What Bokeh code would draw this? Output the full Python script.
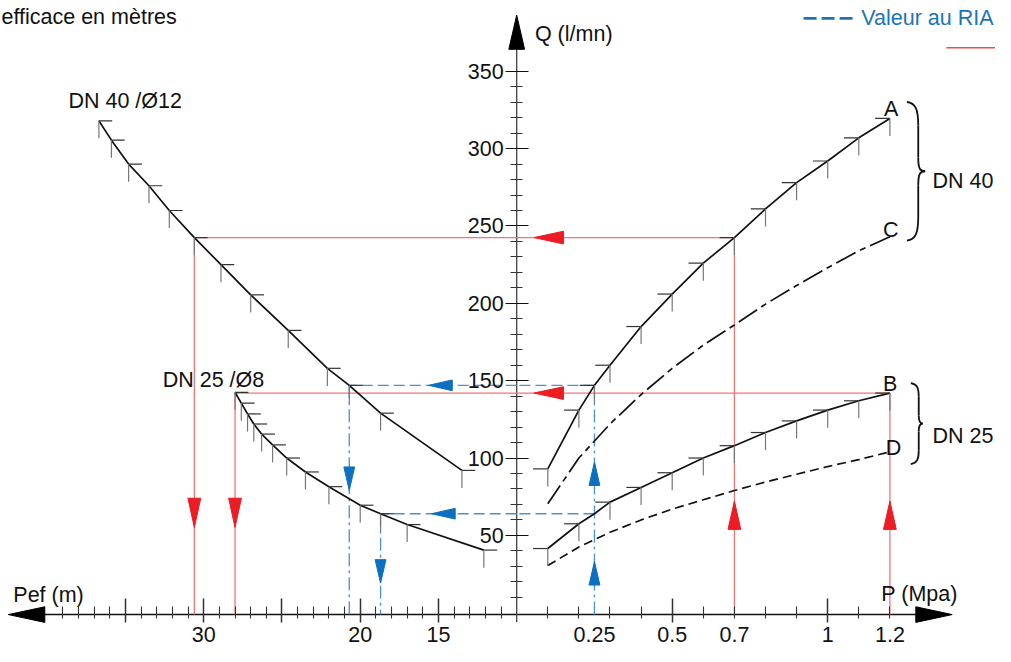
from bokeh.plotting import figure
from bokeh.models import LinearAxis, FixedTicker, Range1d
from bokeh.embed import file_html
from bokeh.resources import INLINE
from bokeh.core.properties import value

# ---------------- data ----------------
P_MPA = [0.1, 0.2, 0.3, 0.4, 0.5, 0.6, 0.7, 0.8, 0.9, 1.0, 1.1, 1.2]
Q_A = [93, 131, 160, 185, 206, 226, 242.5, 261, 278, 292, 307, 319.5]
Q_C = [70.5, 100, 122, 141, 158, 173, 186, 199.5, 211.5, 223, 234, 243]
Q_B = [41.5, 57.5, 71.5, 81, 90.5, 100, 108, 116.5, 124, 131, 137, 142]
Q_D = [30.5, 42.5, 52, 60, 67, 73, 79, 84.5, 89.5, 94.5, 99, 104]

PEF_40 = [13.5, 18.7, 22.1, 24.6, 27.0, 28.9, 30.6, 32.2, 33.5, 34.8, 35.9, 36.7]
Q_40 = [92, 129, 158, 182.5, 205.5, 225, 242.5, 260, 276, 290, 305.5, 318]
PEF_25 = [12.1, 17.0, 20.0, 22.0, 23.5, 24.7, 25.6, 26.3, 26.8, 27.2, 27.6, 28.0]
Q_25 = [40.5, 57, 69.5, 81.5, 91, 100, 108.5, 115.5, 122, 128.5, 135.5, 142.5]

# reading at the RIA value (blue), P = 0.25 MPa
RIA_P = 0.25
RIA_Q = [147, 64]        # DN 40 (A), DN 25 (B)
RIA_PEF = [20.7, 18.7]

# reading at the lance value (red)
RED_P = [0.7, 1.2]
RED_Q = [242.5, 142]
RED_PEF = [30.6, 28.0]

Q_TICKS = [50, 100, 150, 200, 250, 300, 350]
Q_MINOR = [v for v in range(10, 350, 10) if v % 50]
P_MAJOR = [0.5, 1.0]
P_MINOR = [0.1, 0.2, 0.3, 0.4, 0.6, 0.7, 0.8, 0.9, 1.1, 1.2]
P_LABEL_TICKS = [0.25, 0.5, 0.7, 1, 1.2]
P_LABELS = ["0.25", "0.5", "0.7", "1", "1.2"]
PEF_MAJOR = [15, 20, 25, 30, 35]
PEF_MINOR = [v for v in range(11, 40) if v % 5]
PEF_LABEL_TICKS = [15, 20, 30]

# ---------------- layout scales (reference pixels) ----------------
X0, SX = 524.5, 316.0      # P = 0 position, px per MPa
Y0, SY = 627.4, 1.5853     # Q = 0 position, px per l/mn
SPEF = 15.9                # px per metre on the left scale
W_REF, H_REF = 1011, 662


def X(px):
    return (px - X0) / SX


def Y(py):
    return (Y0 - py) / SY


def PEFX(px):
    return 10 + (X0 - px) / SPEF


AXIS_Q = Y(629.3)
FONT = value("Liberation Sans")
FS = "21.5px"

p = figure(width=995, height=646, x_range=Range1d(X(0), X(W_REF)),
           y_range=Range1d(Y(H_REF), Y(0)), x_axis_type=None, y_axis_type=None,
           toolbar_location=None, output_backend="svg", min_border=0)
p.extra_x_ranges = {"pef": Range1d(start=PEFX(0), end=PEFX(W_REF))}
p.outline_line_color = None
p.background_fill_color = "white"
p.border_fill_color = "white"

# ---------------- axes ----------------
label_style = dict(major_label_text_font="Liberation Sans", major_label_text_font_size=FS,
                   major_label_text_color="#111", axis_line_color=None)

ax_q = LinearAxis(fixed_location=0, ticker=FixedTicker(ticks=Q_TICKS, minor_ticks=Q_MINOR),
                  major_tick_in=12, major_tick_out=11, minor_tick_in=6, minor_tick_out=6,
                  major_tick_line_color="#111", minor_tick_line_color="#333",
                  major_label_standoff=2, **label_style)
p.add_layout(ax_q, "left")


def tick_axis(minor, tin, tout, width, rng=None):
    kw = dict(fixed_location=AXIS_Q, ticker=FixedTicker(ticks=[], minor_ticks=minor),
              minor_tick_in=tin, minor_tick_out=tout, minor_tick_line_color="#333",
              minor_tick_line_width=width, major_tick_line_color=None, axis_line_color=None)
    if rng:
        kw["x_range_name"] = rng
    p.add_layout(LinearAxis(**kw), "below")


tick_axis(P_MINOR, 8, 4, 1.1)
tick_axis(P_MAJOR, 16, 8, 1.5)
tick_axis(PEF_MINOR, 8, 4, 1.1, "pef")
tick_axis(PEF_MAJOR, 16, 8, 1.5, "pef")

ax_pl = LinearAxis(fixed_location=AXIS_Q, ticker=FixedTicker(ticks=P_LABEL_TICKS, minor_ticks=[]),
                   major_label_overrides=dict(zip(P_LABEL_TICKS, P_LABELS)),
                   major_tick_line_color=None, minor_tick_line_color=None,
                   major_tick_in=0, major_tick_out=0, major_label_standoff=12, **label_style)
p.add_layout(ax_pl, "below")

ax_ml = LinearAxis(x_range_name="pef", fixed_location=AXIS_Q,
                   ticker=FixedTicker(ticks=PEF_LABEL_TICKS, minor_ticks=[]),
                   major_tick_line_color=None, minor_tick_line_color=None,
                   major_tick_in=0, major_tick_out=0, major_label_standoff=12, **label_style)
p.add_layout(ax_ml, "below")

# axis lines
p.segment(x0=[X(45)], y0=[AXIS_Q], x1=[X(930)], y1=[AXIS_Q], line_color="#111", line_width=1.5)
p.segment(x0=[0], y0=[Y(637)], x1=[0], y1=[Y(50)], line_color="#444", line_width=1.3)


def tri(x, y, d, L, H, rng="default"):
    sx = 1 / SX if rng == "default" else -1 / SPEF
    sy = 1 / SY
    if d == "left":
        return [x, x + L * sx, x + L * sx], [y, y + H * sy, y - H * sy]
    if d == "right":
        return [x, x - L * sx, x - L * sx], [y, y + H * sy, y - H * sy]
    if d == "up":
        return [x, x - H * sx, x + H * sx], [y, y - L * sy, y - L * sy]
    return [x, x - H * sx, x + H * sx], [y, y + L * sy, y + L * sy]


# axis arrowheads
ah = [tri(X(8), AXIS_Q, "left", 37, 8), tri(X(967), AXIS_Q, "right", 37, 8), tri(0, Y(15), "up", 35, 8)]
p.patches([a[0] for a in ah], [a[1] for a in ah], fill_color="#000", line_color="#000")

# ---------------- red (lance) guides ----------------
RED_LINE, RED_ARROW = "#f27474", "#ec1c24"
p.segment(x0=RED_P, y0=[AXIS_Q] * 2, x1=RED_P, y1=RED_Q, line_color=RED_LINE, line_width=1.3)
p.segment(x0=RED_P, y0=RED_Q, x1=[0, 0], y1=RED_Q, line_color=RED_LINE, line_width=1.3)
p.segment(x0=[10, 10], y0=RED_Q, x1=RED_PEF, y1=RED_Q, line_color=RED_LINE, line_width=1.3,
          x_range_name="pef")
p.segment(x0=RED_PEF, y0=RED_Q, x1=RED_PEF, y1=[AXIS_Q] * 2, line_color=RED_LINE, line_width=1.3,
          x_range_name="pef")
ra = [tri(X(542), q, "left", 30, 6.5) for q in RED_Q] + [tri(pp, Y(513), "up", 29, 6.5) for pp in RED_P]
p.patches([a[0] for a in ra], [a[1] for a in ra], fill_color=RED_ARROW, line_color=RED_ARROW)
rl = [tri(m, Y(540), "down", 30, 6.5, "pef") for m in RED_PEF]
p.patches([a[0] for a in rl], [a[1] for a in rl], fill_color=RED_ARROW, line_color=RED_ARROW,
          x_range_name="pef")

# ---------------- blue (RIA) guides ----------------
BLUE_LINE, BLUE_ARROW = "#4a92d2", "#0d6fbf"
p.segment(x0=[RIA_P], y0=[AXIS_Q], x1=[RIA_P], y1=[RIA_Q[0]], line_color=BLUE_LINE, line_width=1.3,
          line_dash="13 4 3 4")
p.segment(x0=[RIA_P] * 2, y0=RIA_Q, x1=[0, 0], y1=RIA_Q, line_color=BLUE_LINE, line_width=1.3,
          line_dash="11 5")
p.segment(x0=[10, 10], y0=RIA_Q, x1=RIA_PEF, y1=RIA_Q, line_color=BLUE_LINE, line_width=1.3,
          line_dash="11 5", x_range_name="pef")
p.segment(x0=RIA_PEF, y0=RIA_Q, x1=RIA_PEF, y1=[AXIS_Q] * 2, line_color=BLUE_LINE, line_width=1.3,
          line_dash="13 4 3 4", x_range_name="pef")
ba = [tri(RIA_P, Y(473), "up", 24, 5.5), tri(RIA_P, Y(575), "up", 24, 5.5)]
p.patches([a[0] for a in ba], [a[1] for a in ba], fill_color=BLUE_ARROW, line_color=BLUE_ARROW)
bl = [tri(PEFX(435), RIA_Q[0], "left", 24, 5.5, "pef"), tri(PEFX(438), RIA_Q[1], "left", 24, 5.5, "pef"),
      tri(RIA_PEF[0], Y(502), "down", 24, 5.5, "pef"), tri(RIA_PEF[1], Y(597), "down", 24, 5.5, "pef")]
p.patches([a[0] for a in bl], [a[1] for a in bl], fill_color=BLUE_ARROW, line_color=BLUE_ARROW,
          x_range_name="pef")

# ---------------- curves ----------------
def with_ria(xs, ys, xr, yr):
    pts = sorted(list(zip(xs, ys)) + [(xr, yr)])
    return [a for a, _ in pts], [b for _, b in pts]


ax_, ay_ = with_ria(P_MPA, Q_A, RIA_P, RIA_Q[0])
bx_, by_ = with_ria(P_MPA, Q_B, RIA_P, RIA_Q[1])
lx40, ly40 = with_ria(PEF_40, Q_40, RIA_PEF[0], RIA_Q[0])
lx25, ly25 = with_ria(PEF_25, Q_25, RIA_PEF[1], RIA_Q[1])

CURVE = "#111"
p.line(ax_, ay_, line_color=CURVE, line_width=1.7)
p.line(bx_, by_, line_color=CURVE, line_width=1.7)
p.line(P_MPA, Q_C, line_color=CURVE, line_width=1.7, line_dash="22 5 6 5")
p.line(P_MPA, Q_D, line_color=CURVE, line_width=1.7, line_dash="9 5")
p.line(lx40, ly40, line_color=CURVE, line_width=1.7, x_range_name="pef")
p.line(lx25, ly25, line_color=CURVE, line_width=1.7, x_range_name="pef")

# tick marks on the curves
TH, TV = 15 / SX, 18 / SY
rtx = ax_ + P_MPA
rty = ay_ + Q_B
p.segment(x0=[x - TH for x in rtx], y0=rty, x1=rtx, y1=rty, line_color="#333", line_width=1.2)
p.segment(x0=rtx, y0=rty, x1=rtx, y1=[y - TV for y in rty], line_color="#777", line_width=1.2)
ltx = lx40 + lx25
lty = ly40 + ly25
LH = 13.5 / SPEF
p.segment(x0=ltx, y0=lty, x1=[x - LH for x in ltx], y1=lty, line_color="#333", line_width=1.2,
          x_range_name="pef")
p.segment(x0=ltx, y0=lty, x1=ltx, y1=[y - TV for y in lty], line_color="#777", line_width=1.2,
          x_range_name="pef")

# ---------------- braces ----------------
def brace(xl, ytop, ybot, spine, tip):
    xm, xt = xl + spine, xl + tip
    ym = (ytop + ybot) / 2
    h = ybot - ytop
    e = 0.17 * h
    return [
        ((xl, ytop), (xl + spine * 0.75, ytop + 1), (xm, ytop + e * 0.3), (xm, ytop + e)),
        ((xm, ytop + e), (xm, ytop + e), (xm, ym - 0.1 * h), (xm, ym - 0.1 * h)),
        ((xm, ym - 0.1 * h), (xm, ym - 2), (xm + 2, ym), (xt, ym)),
        ((xt, ym), (xm + 2, ym), (xm, ym + 2), (xm, ym + 0.1 * h)),
        ((xm, ym + 0.1 * h), (xm, ym + 0.1 * h), (xm, ybot - e), (xm, ybot - e)),
        ((xm, ybot - e), (xm, ybot - e * 0.3), (xl + spine * 0.75, ybot - 1), (xl, ybot)),
    ]


segs = brace(921, 104, 246, 11.5, 18.5) + brace(925, 392, 475, 8, 12)
p.bezier(x0=[X(s[0][0]) for s in segs], y0=[Y(s[0][1]) for s in segs],
         cx0=[X(s[1][0]) for s in segs], cy0=[Y(s[1][1]) for s in segs],
         cx1=[X(s[2][0]) for s in segs], cy1=[Y(s[2][1]) for s in segs],
         x1=[X(s[3][0]) for s in segs], y1=[Y(s[3][1]) for s in segs],
         line_color="#111", line_width=1.8)

# ---------------- legend marks ----------------
p.segment(x0=[X(816)], y0=[Y(18.3)], x1=[X(868)], y1=[Y(18.3)], line_color="#1b75bc",
          line_width=2.6, line_dash="13 5")
p.segment(x0=[X(961)], y0=[Y(48.3)], x1=[X(1015)], y1=[Y(48.3)], line_color="#f04a4a",
          line_width=1.5)

# ---------------- texts ----------------
def txt(px, py, s, align="left", color="#111"):
    p.text(x=[X(px)], y=[Y(py)], text=[s], text_font=FONT, text_font_size=FS,
           text_align=align, text_baseline="alphabetic", text_color=color)


txt(543, 34, "Q (l/mn)")
txt(13, 609.3, "Pef (m)")
txt(895, 608.5, "P (Mpa)")
txt(69, 103, "DN 40 /Ø12")
txt(268, 389.3, "DN 25 /Ø8", align="right")
txt(905, 111, "A", align="center")
txt(904.5, 235, "C", align="center")
txt(904, 393, "B", align="center")
txt(907.5, 459, "D", align="center")
txt(947, 185, "DN 40")
txt(947, 446, "DN 25")
txt(1, 17, "efficace en mètres")
txt(1009, 18.4, "Valeur au RIA", align="right", color="#1b75bc")

open("out.html", "w").write(file_html(p, INLINE))
